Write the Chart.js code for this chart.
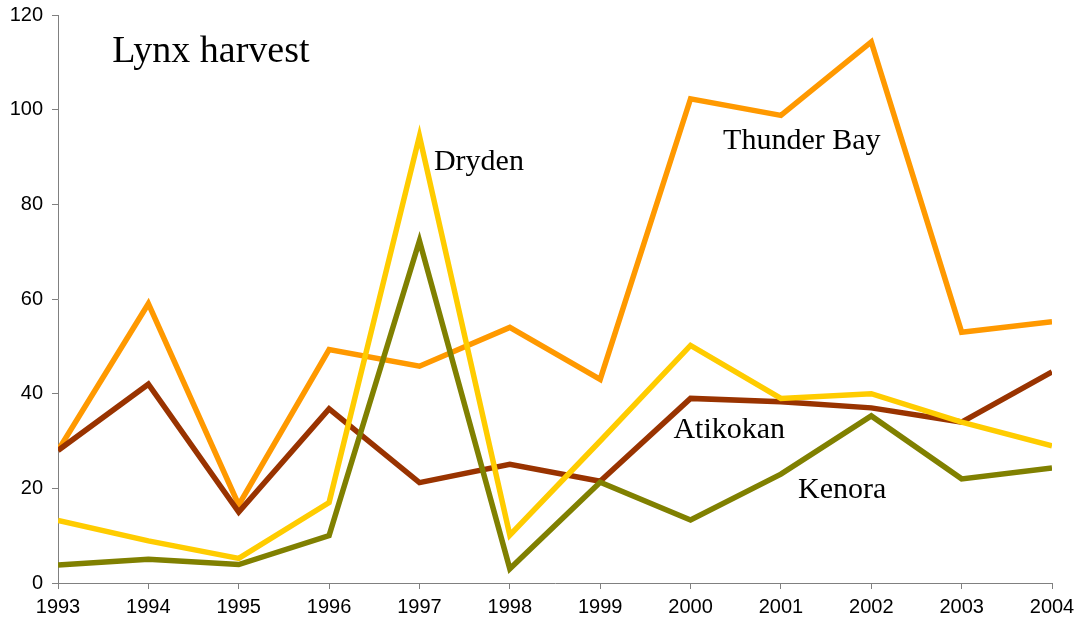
<!DOCTYPE html>
<html>
<head>
<meta charset="utf-8">
<script src="https://cdn.jsdelivr.net/npm/chart.js@4/dist/chart.umd.min.js"></script>
<style>
  html, body { margin: 0; padding: 0; background: #fff; }
  #wrap { width: 1076px; height: 629px; }
</style>
</head>
<body>
<div id="wrap"><canvas id="lynxChart" width="1076" height="629"></canvas></div>
<script>
// data
const years = [1993, 1994, 1995, 1996, 1997, 1998, 1999, 2000, 2001, 2002, 2003, 2004];
const thunderBay = [28, 59, 16.5, 49.3, 45.8, 54, 43, 102.3, 98.8, 114.3, 53, 55.2];
const atikokan   = [28, 42, 15, 36.8, 21.2, 25.1, 21.5, 39, 38.3, 37, 34, 44.6];
const dryden     = [13.2, 8.9, 5.2, 17, 94.4, 10.1, 30, 50.2, 39, 40, 34, 29];
const kenora     = [3.8, 5, 3.9, 10, 72.3, 3, 21.3, 13.3, 23, 35.3, 22, 24.3];
const yTicks = [0, 20, 40, 60, 80, 100, 120];

// text labels placed in data units: [text, year, value, font size]
const notes = [
    ["Lynx harvest", 1993.6, 112.2, 38],
    ["Dryden", 1997.16, 89, 30],
    ["Thunder Bay", 2000.36, 93.4, 30],
    ["Atikokan", 1999.81, 32.3, 30],
    ["Kenora", 2001.19, 19.6, 30]
];

const toPoints = arr => arr.map((v, i) => ({ x: years[i], y: v }));

const notesPlugin = {
    id: "notes",
    afterDatasetsDraw(chart) {
        const ctx = chart.ctx;
        const xs = chart.scales.x, ys = chart.scales.y;
        ctx.save();
        ctx.fillStyle = "#000";
        ctx.textAlign = "left";
        ctx.textBaseline = "middle";
        notes.forEach(([txt, x, y, size]) => {
            ctx.font = `${size}px "Liberation Serif", "Times New Roman", serif`;
            ctx.fillText(txt, xs.getPixelForValue(x), ys.getPixelForValue(y));
        });
        ctx.restore();
    }
};

const line = (label, data, color, order) => ({
    label, data: toPoints(data), borderColor: color, backgroundColor: color,
    borderWidth: 5.5, pointRadius: 0, tension: 0, order,
    borderJoinStyle: "miter"
});

const tickFont = { family: '"Liberation Sans", Arial, sans-serif', size: 20 };

new Chart(document.getElementById("lynxChart").getContext("2d"), {
    type: "line",
    data: {
        datasets: [
            line("Thunder Bay", thunderBay, "#FF9900", 4),
            line("Atikokan", atikokan, "#993300", 3),
            line("Kenora", kenora, "#808000", 2),
            line("Dryden", dryden, "#FFCC00", 1)
        ]
    },
    options: {
        responsive: false,
        animation: false,
        layout: { padding: { top: 15, right: 24, bottom: 0, left: 0 } },
        plugins: { legend: { display: false }, tooltip: { enabled: false } },
        scales: {
            x: {
                type: "linear", min: 1993, max: 2004,
                afterBuildTicks: s => { s.ticks = years.map(v => ({ value: v })); },
                afterFit: s => { s.height = 46; s.paddingLeft = 0; s.paddingRight = 0; },
                ticks: {
                    callback: v => String(v), autoSkip: false, maxRotation: 0,
                    color: "#000", padding: 6, font: tickFont
                },
                grid: { display: true, drawOnChartArea: false, drawTicks: true, tickLength: 6, color: "#808080" },
                border: { color: "#808080", width: 1 }
            },
            y: {
                min: 0, max: 120,
                afterBuildTicks: s => { s.ticks = yTicks.map(v => ({ value: v })); },
                afterFit: s => { s.width = 58; s.paddingTop = 0; s.paddingBottom = 0; },
                ticks: { color: "#000", padding: 9, font: tickFont },
                grid: { display: true, drawOnChartArea: false, drawTicks: true, tickLength: 6, color: "#808080" },
                border: { color: "#808080", width: 1 }
            }
        }
    },
    plugins: [notesPlugin]
});
</script>
</body>
</html>
